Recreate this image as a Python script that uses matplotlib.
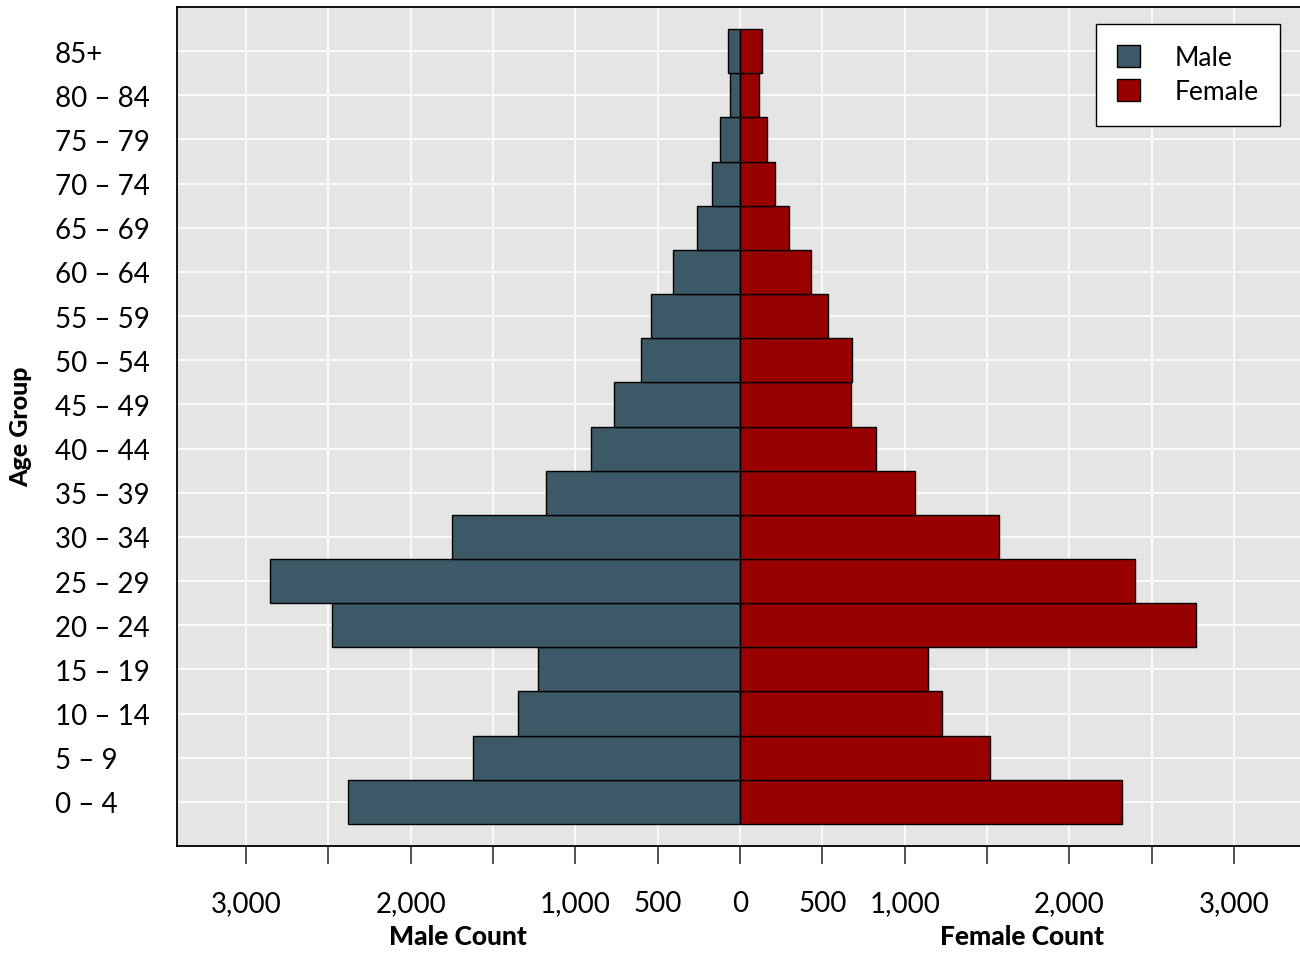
import numpy as np
import matplotlib
matplotlib.use('Agg')
import matplotlib.pyplot as plt
from matplotlib.patches import Patch
import matplotlib.transforms as mtransforms

plt.rcParams['font.family'] = ['Lato', 'DejaVu Sans']

# ---------------------------------------------------------------------------
# Data
# ---------------------------------------------------------------------------
age_groups = ['0 – 4', '5 – 9', '10 – 14', '15 – 19', '20 – 24', '25 – 29',
              '30 – 34', '35 – 39', '40 – 44', '45 – 49', '50 – 54', '55 – 59',
              '60 – 64', '65 – 69', '70 – 74', '75 – 79', '80 – 84', '85+']
male = [2379, 1620, 1347, 1226, 2476, 2852, 1748, 1177, 904, 765, 601, 540,
        407, 261, 170, 121, 61, 73]
female = [2318, 1517, 1226, 1141, 2767, 2397, 1572, 1062, 825, 674, 680, 534,
          431, 297, 212, 164, 115, 134]

tick_vals = [-3000, -2500, -2000, -1500, -1000, -500, 0, 500, 1000, 1500, 2000, 2500, 3000]
tick_text = ['3,000', '', '2,000', '', '1,000', '500', '0', '500', '1,000', '', '2,000', '', '3,000']

MALE_C = '#3d5866'
FEMALE_C = '#990000'
PANEL = '#e5e5e5'

# ---------------------------------------------------------------------------
# Figure
# ---------------------------------------------------------------------------
fig = plt.figure(figsize=(13, 9.54), dpi=100)
ax = fig.add_axes([177/1300, 1 - 847/954, 1 - 177/1300, (847 - 8)/954])
ax.set_facecolor(PANEL)

y = np.arange(len(age_groups))
ax.barh(y, -np.array(male), height=1.0, color=MALE_C, edgecolor='black',
        linewidth=1.0, label='Male', zorder=3)
ax.barh(y, female, height=1.0, color=FEMALE_C, edgecolor='black',
        linewidth=1.0, label='Female', zorder=3)

ax.set_xlim(-3419, 3401)
ax.set_ylim(-1, len(age_groups))

ax.set_xticks(tick_vals)
ax.set_xticklabels(tick_text, fontsize=20)
ax.set_yticks(y)
ax.set_yticklabels(age_groups, fontsize=20)

ax.grid(True, color='white', linewidth=1.2, zorder=0)
ax.set_axisbelow(True)
ax.tick_params(axis='x', length=13, width=1.3, color='#444444', pad=19)
# left-aligned age labels starting near x=55 px
ax.tick_params(axis='y', length=0, pad=(177 - 55) * 0.72)
for lab in ax.get_yticklabels():
    lab.set_horizontalalignment('left')

for s in ['left', 'bottom', 'top']:
    ax.spines[s].set_color('black')
    ax.spines[s].set_linewidth(1.3)
ax.spines['right'].set_visible(False)

fig.text(21/1300, 1 - 427/954, 'Age Group', rotation=90, ha='center',
         va='center', fontsize=18, fontweight='black')

trans = mtransforms.blended_transform_factory(ax.transData, fig.transFigure)
ax.text(-1711, 1 - 937/954, 'Male Count', transform=trans, ha='center',
        va='center', fontsize=19, fontweight='black')
ax.text(1711, 1 - 937/954, 'Female Count', transform=trans, ha='center',
        va='center', fontsize=19, fontweight='black')

handles = [Patch(facecolor=MALE_C, edgecolor='black', label='Male'),
           Patch(facecolor=FEMALE_C, edgecolor='black', label='Female')]
leg = ax.legend(handles=handles, loc='upper right', bbox_to_anchor=(1280/1300, 1 - 25/954),
                bbox_transform=fig.transFigure, fontsize=19, frameon=True,
                fancybox=False, edgecolor='black', framealpha=1,
                borderpad=0.8, handlelength=0.9, handleheight=0.9,
                handletextpad=1.3, labelspacing=0.35, borderaxespad=0)
leg.get_frame().set_linewidth(1.0)

fig.savefig('out.png', dpi=100)
